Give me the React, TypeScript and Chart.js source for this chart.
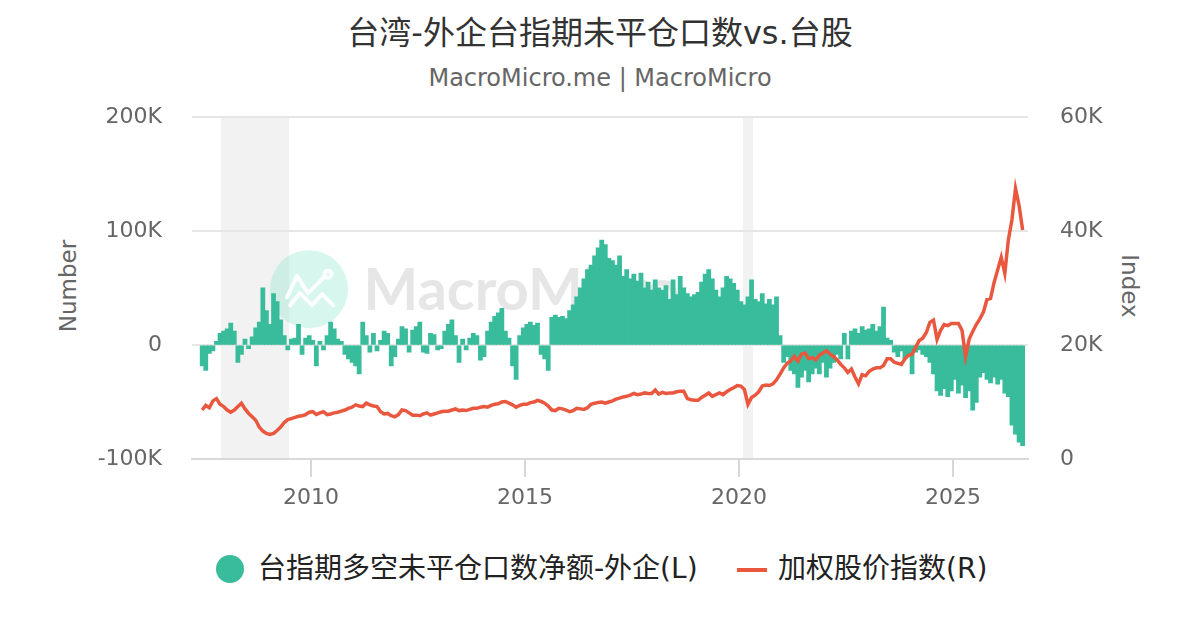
import React, { useEffect, useRef } from 'react';
import { Chart, registerables } from 'chart.js';

Chart.register(...registerables);

const FONT = '"DejaVu Sans", "Noto Sans CJK SC", sans-serif';
const GREEN = '#38bc9b';
const RED = '#e9573f';

const TITLE = '台湾-外企台指期未平仓口数vs.台股';
const SUBTITLE = 'MacroMicro.me | MacroMicro';
const LEFT_AXIS_TITLE = 'Number';
const RIGHT_AXIS_TITLE = 'Index';
const BAR_LABEL = '台指期多空未平仓口数净额-外企(L)';
const LINE_LABEL = '加权股价指数(R)';

// monthly series, starting June 2007 (values in thousands)
const START_YEAR = 2007;
const START_MONTH = 6;

const net2007 = [-18, -22, -7, -5, 3, 10, 12];
const net2008 = [14, 19, 12, -15, -8, 5, -3, 7, 15, 20, 50, 30];
const net2009 = [18, 45, 38, 22, 8, -4, 5, 6, 18, -8, 6, 8];
const net2010 = [4, -18, 3, -4, 8, 20, 14, 5, 3, -8, -12, -15];
const net2011 = [-18, -25, 20, 8, -6, 10, -5, 4, 12, 10, -18, -10];
const net2012 = [5, 16, 14, -6, 13, 16, 20, -6, -7, 10, 9, -4];
const net2013 = [-3, 12, 18, 22, 8, -15, 5, -4, 6, 10, 8, -13];
const net2014 = [-10, 12, 20, 25, 28, 32, 12, 6, -18, -30, 8, 15];
const net2015 = [18, 20, 17, 19, -8, -12, -22, 24, 26, 24, 25, 23];
const net2016 = [30, 35, 42, 50, 58, 66, 70, 78, 85, 92, 88, 76];
const net2017 = [74, 70, 78, 60, 66, 58, 62, 56, 63, 50, 55, 48];
const net2018 = [57, 50, 48, 52, 40, 57, 44, 60, 50, 45, 42, 44];
const net2019 = [46, 55, 62, 66, 58, 48, 42, 50, 60, 58, 54, 48];
const net2020 = [38, 35, 42, 57, 40, 38, 45, 36, 40, 35, 42, 8];
const net2021 = [-15, -10, -22, -25, -37, -28, -22, -32, -25, -20, -25, -15];
const net2022 = [-28, -20, -15, -8, -12, 10, -12, 12, 14, 10, 16, 13];
const net2023 = [14, 18, 12, 16, 33, 6, 4, -6, -10, -5, -12, -8];
const net2024 = [-25, -6, -4, -8, -10, -15, -25, -40, -44, -38, -45, -40];
const net2025 = [-30, -42, -35, -46, -40, -57, -50, -28, -24, -30, -33, -28];
const net2026 = [-34, -30, -42, -45, -70, -78, -85, -88];

const idx2007 = [8.6, 9.4, 9.0, 10.2, 10.6, 9.6, 9.2];
const idx2008 = [8.6, 8.2, 8.6, 9.2, 9.8, 8.8, 8.0, 7.4, 6.8, 5.6, 4.9, 4.5];
const idx2009 = [4.3, 4.5, 5.0, 5.6, 6.4, 6.9, 7.1, 7.3, 7.5, 7.6, 7.8, 8.2];
const idx2010 = [8.3, 7.8, 8.1, 8.3, 7.8, 7.9, 8.1, 8.2, 8.4, 8.6, 8.9, 9.1];
const idx2011 = [9.5, 9.3, 9.2, 9.8, 9.5, 9.3, 9.2, 8.3, 7.9, 8.0, 7.6, 7.4];
const idx2012 = [7.8, 8.6, 8.5, 8.1, 7.7, 7.7, 7.6, 7.9, 8.1, 7.7, 7.9, 8.1];
const idx2013 = [8.3, 8.4, 8.4, 8.6, 8.8, 8.5, 8.6, 8.5, 8.7, 8.9, 8.9, 9.1];
const idx2014 = [9.2, 9.1, 9.4, 9.6, 9.7, 10.0, 10.1, 9.8, 9.5, 9.1, 9.4, 9.6];
const idx2015 = [9.6, 9.9, 10.0, 10.3, 10.1, 9.8, 9.3, 8.6, 8.5, 8.9, 8.8, 8.6];
const idx2016 = [8.3, 8.5, 8.9, 8.8, 8.7, 9.0, 9.6, 9.8, 9.9, 10.0, 9.8, 10.0];
const idx2017 = [10.2, 10.5, 10.7, 10.9, 11.0, 11.2, 11.5, 11.3, 11.4, 11.6, 11.5, 11.5];
const idx2018 = [12.1, 11.4, 11.7, 11.5, 11.6, 11.6, 11.8, 11.9, 11.9, 10.6, 10.4, 10.3];
const idx2019 = [10.3, 10.8, 11.2, 11.6, 11.0, 11.3, 11.6, 11.3, 11.8, 12.2, 12.5, 12.9];
const idx2020 = [12.8, 12.2, 9.6, 10.8, 11.2, 11.8, 12.8, 13.0, 12.9, 13.2, 13.9, 14.9];
const idx2021 = [16.0, 16.8, 17.2, 18.0, 17.2, 18.4, 18.6, 17.6, 17.8, 17.4, 18.2, 18.6];
const idx2022 = [19.0, 18.4, 18.0, 17.4, 16.6, 16.0, 15.2, 15.8, 14.4, 13.2, 14.8, 14.6];
const idx2023 = [15.4, 15.8, 16.0, 16.0, 16.4, 17.6, 17.6, 17.0, 16.8, 16.6, 17.6, 18.2];
const idx2024 = [18.4, 19.6, 20.8, 21.2, 22.2, 24.0, 24.4, 21.0, 22.6, 23.6, 23.4, 23.8];
const idx2025 = [23.8, 23.8, 22.6, 18.0, 21.0, 22.4, 23.6, 24.6, 25.8, 28.0, 28.2, 31.0];
const idx2026 = [33.2, 35.4, 32.6, 38.5, 42.0, 47.5, 44.5, 40.2];

const netPositions = [
  ...net2007, ...net2008, ...net2009, ...net2010, ...net2011, ...net2012, ...net2013,
  ...net2014, ...net2015, ...net2016, ...net2017, ...net2018, ...net2019, ...net2020,
  ...net2021, ...net2022, ...net2023, ...net2024, ...net2025, ...net2026,
];
const taiex = [
  ...idx2007, ...idx2008, ...idx2009, ...idx2010, ...idx2011, ...idx2012, ...idx2013,
  ...idx2014, ...idx2015, ...idx2016, ...idx2017, ...idx2018, ...idx2019, ...idx2020,
  ...idx2021, ...idx2022, ...idx2023, ...idx2024, ...idx2025, ...idx2026,
];

const monthX = netPositions.map((_, i) => {
  const m = START_MONTH - 1 + i;
  return START_YEAR + Math.floor(m / 12) + ((m % 12) + 0.5) / 12;
});

const shadedPeriods: [number, number][] = [
  [2007.9, 2009.49],
  [2020.09, 2020.33],
];
const X_MIN = 2007.22;
const X_MAX = 2026.75;
const xTicks = [2010, 2015, 2020, 2025];
const leftTicks = [-100, 0, 100, 200];
const rightTicks = [0, 20, 40, 60];

const kLabel = (v: number) => (v === 0 ? '0' : `${v}K`);

const backgroundPlugin = {
  id: 'mmBackground',
  beforeDraw(chart: any) {
    const { ctx, chartArea, scales } = chart;
    const { left, right, top, bottom } = chartArea;
    const w = right - left;
    const h = bottom - top;
    ctx.save();
    ctx.fillStyle = '#f2f2f2';
    shadedPeriods.forEach(([a, b]) => {
      const x1 = scales.x.getPixelForValue(a);
      const x2 = scales.x.getPixelForValue(b);
      ctx.fillRect(x1, top, x2 - x1, h);
    });
    // watermark
    const cx = left + w * 0.14;
    const cy = top + h * 0.503;
    const r = 39;
    ctx.fillStyle = 'rgba(120, 225, 200, 0.3)';
    ctx.beginPath();
    ctx.arc(cx, cy, r, 0, Math.PI * 2);
    ctx.fill();
    ctx.strokeStyle = 'rgba(255,255,255,0.95)';
    ctx.lineWidth = 4;
    ctx.lineJoin = 'round';
    ctx.lineCap = 'round';
    ctx.beginPath();
    ctx.moveTo(cx - 22, cy + 8);
    ctx.lineTo(cx - 12, cy - 13);
    ctx.lineTo(cx - 1, cy + 4);
    ctx.lineTo(cx + 15, cy - 12);
    ctx.stroke();
    ctx.beginPath();
    ctx.arc(cx + 19, cy - 15, 3.5, 0, Math.PI * 2);
    ctx.stroke();
    ctx.beginPath();
    ctx.moveTo(cx - 19, cy + 16);
    ctx.lineTo(cx - 9, cy + 4);
    ctx.lineTo(cx + 3, cy + 16);
    ctx.lineTo(cx + 13, cy + 5);
    ctx.lineTo(cx + 24, cy + 16);
    ctx.stroke();
    ctx.fillStyle = '#e6e6e6';
    ctx.font = 'bold 58px Lato, "DejaVu Sans", sans-serif';
    ctx.textBaseline = 'middle';
    ctx.textAlign = 'left';
    ctx.fillText('MacroMicro', left + w * 0.205, cy + 2);
    ctx.restore();
  },
};

function ChartCanvas() {
  const ref = useRef<HTMLCanvasElement | null>(null);
  useEffect(() => {
    if (!ref.current) return;
    Chart.defaults.font.family = FONT;
    const chart = new Chart(ref.current, {
      type: 'bar',
      data: {
        datasets: [
          {
            type: 'line',
            label: LINE_LABEL,
            data: monthX.map((x, i) => ({ x, y: taiex[i] })),
            yAxisID: 'y2',
            borderColor: RED,
            backgroundColor: RED,
            borderWidth: 3.5,
            pointRadius: 0,
            tension: 0,
            order: 0,
          } as any,
          {
            type: 'bar',
            label: BAR_LABEL,
            data: monthX.map((x, i) => ({ x, y: netPositions[i] })),
            yAxisID: 'y',
            backgroundColor: GREEN,
            borderColor: GREEN,
            borderWidth: 0,
            barPercentage: 1,
            categoryPercentage: 1,
            inflateAmount: 0.6,
            order: 1,
          } as any,
        ],
      },
      options: {
        animation: false,
        responsive: true,
        maintainAspectRatio: false,
        layout: { padding: { top: 17, left: 0, right: 0, bottom: 0 } },
        plugins: {
          legend: { display: false },
          tooltip: { enabled: false },
          title: { display: false },
        },
        scales: {
          x: {
            type: 'linear',
            position: 'bottom',
            min: X_MIN,
            max: X_MAX,
            offset: false,
            afterBuildTicks: (s: any) => {
              s.ticks = xTicks.map((v) => ({ value: v }));
            },
            afterFit: (s: any) => {
              s.height = 73;
            },
            ticks: {
              callback: (v: any) => String(v),
              color: '#666',
              font: { size: 22, family: FONT },
              padding: 8,
              maxRotation: 0,
              autoSkip: false,
            },
            grid: {
              drawOnChartArea: false,
              drawTicks: true,
              tickLength: 18,
              color: '#d6d6d6',
              lineWidth: 2,
              offset: false,
            },
            border: { display: true, color: '#d9d9d9', width: 2 },
          } as any,
          y: {
            type: 'linear',
            position: 'left',
            min: -100,
            max: 200,
            afterBuildTicks: (s: any) => {
              s.ticks = leftTicks.map((v) => ({ value: v }));
            },
            afterFit: (s: any) => {
              s.width = 192;
            },
            ticks: {
              callback: (v: any) => kLabel(Number(v)),
              color: '#666',
              font: { size: 22, family: FONT },
              padding: 30,
            },
            grid: { color: '#e6e6e6', lineWidth: 2, drawTicks: false },
            border: { display: false },
          } as any,
          y2: {
            type: 'linear',
            position: 'right',
            min: 0,
            max: 60,
            afterBuildTicks: (s: any) => {
              s.ticks = rightTicks.map((v) => ({ value: v }));
            },
            afterFit: (s: any) => {
              s.width = 172;
            },
            ticks: {
              callback: (v: any) => kLabel(Number(v)),
              color: '#666',
              font: { size: 22, family: FONT },
              padding: 32,
            },
            grid: { drawOnChartArea: false, drawTicks: false },
            border: { display: false },
          } as any,
        },
      },
      plugins: [backgroundPlugin],
    });
    return () => chart.destroy();
  }, []);
  return <canvas ref={ref} />;
}

export default function App() {
  return (
    <div
      style={{
        position: 'fixed',
        left: 0,
        top: 0,
        width: 1200,
        height: 630,
        background: '#fff',
        fontFamily: FONT,
        overflow: 'hidden',
      }}
    >
      <div
        style={{
          position: 'absolute',
          top: 13,
          left: 0,
          width: 1200,
          textAlign: 'center',
          fontSize: 32,
          lineHeight: '40px',
          color: '#333',
        }}
      >
        {TITLE}
      </div>
      <div
        style={{
          position: 'absolute',
          top: 63,
          left: 0,
          width: 1200,
          textAlign: 'center',
          fontSize: 24,
          lineHeight: '30px',
          color: '#666',
        }}
      >
        {SUBTITLE}
      </div>
      <div
        style={{
          position: 'absolute',
          left: 68,
          top: 286,
          transform: 'translate(-50%, -50%) rotate(-90deg)',
          whiteSpace: 'nowrap',
          fontSize: 23,
          color: '#666',
        }}
      >
        {LEFT_AXIS_TITLE}
      </div>
      <div
        style={{
          position: 'absolute',
          left: 1130,
          top: 286,
          transform: 'translate(-50%, -50%) rotate(90deg)',
          whiteSpace: 'nowrap',
          fontSize: 23,
          color: '#666',
        }}
      >
        {RIGHT_AXIS_TITLE}
      </div>
      <div style={{ position: 'absolute', left: 0, top: 72, width: 1200, height: 460 }}>
        <ChartCanvas />
      </div>
      <div
        style={{
          position: 'absolute',
          left: 216,
          top: 555,
          width: 28,
          height: 28,
          borderRadius: '50%',
          background: GREEN,
        }}
      />
      <div
        style={{
          position: 'absolute',
          left: 258,
          top: 551,
          fontSize: 28,
          lineHeight: '36px',
          color: '#222',
          whiteSpace: 'nowrap',
        }}
      >
        {BAR_LABEL}
      </div>
      <div
        style={{
          position: 'absolute',
          left: 737,
          top: 568,
          width: 30,
          height: 4,
          background: RED,
        }}
      />
      <div
        style={{
          position: 'absolute',
          left: 778,
          top: 551,
          fontSize: 28,
          lineHeight: '36px',
          color: '#222',
          whiteSpace: 'nowrap',
        }}
      >
        {LINE_LABEL}
      </div>
    </div>
  );
}
